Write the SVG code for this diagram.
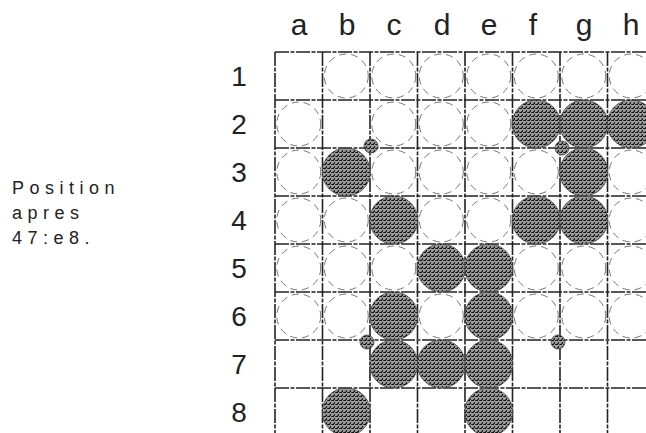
<svg xmlns="http://www.w3.org/2000/svg" width="646" height="433" viewBox="0 0 646 433">
<defs>
<pattern id="stip" width="4" height="4" patternUnits="userSpaceOnUse">
<rect width="4" height="4" fill="#9a9a9a"/>
<rect x="0" y="0" width="2" height="1" fill="#111"/>
<rect x="2" y="2" width="1" height="2" fill="#222"/>
<rect x="3" y="0" width="1" height="1" fill="#333"/>
<rect x="1" y="3" width="1" height="1" fill="#444"/>
</pattern>
</defs>
<style>
.lbl{font-family:"Liberation Sans",Arial,sans-serif;fill:#222;text-anchor:middle}
.col{font-size:30px}
.row{font-size:28px}
.note{font-family:"Liberation Sans",Arial,sans-serif;font-size:18px;letter-spacing:5.5px;fill:#222}
.grid line{stroke:#222;stroke-width:1.6;stroke-dasharray:14 1.5 4 1.5}
.e{fill:none;stroke:#777;stroke-width:1;stroke-dasharray:7 5}
.b{fill:url(#stip);stroke:#444;stroke-width:0.8}
</style>
<rect width="646" height="433" fill="#fff"/>
<g id="caption">
<text class="note" x="12" y="194">Position</text>
<text class="note" x="12" y="219">apres</text>
<text class="note" x="12" y="244">47:e8.</text>
</g>
<g id="col-labels">
<text class="lbl col" x="299" y="35">a</text>
<text class="lbl col" x="347" y="35">b</text>
<text class="lbl col" x="394" y="35">c</text>
<text class="lbl col" x="442" y="35">d</text>
<text class="lbl col" x="489" y="35">e</text>
<text class="lbl col" x="533" y="35">f</text>
<text class="lbl col" x="584" y="35">g</text>
<text class="lbl col" x="631" y="35">h</text>
</g>
<g id="row-labels">
<text class="lbl row" x="239" y="86">1</text>
<text class="lbl row" x="239" y="134">2</text>
<text class="lbl row" x="239" y="182">3</text>
<text class="lbl row" x="239" y="230">4</text>
<text class="lbl row" x="239" y="278">5</text>
<text class="lbl row" x="239" y="326">6</text>
<text class="lbl row" x="239" y="374">7</text>
<text class="lbl row" x="239" y="422">8</text>
</g>
<g id="empty-points">
<circle class="e" cx="346.25" cy="76" r="22"/><circle class="e" cx="393.75" cy="76" r="22"/><circle class="e" cx="441.25" cy="76" r="22"/><circle class="e" cx="488.75" cy="76" r="22"/><circle class="e" cx="536.25" cy="76" r="22"/><circle class="e" cx="583.75" cy="76" r="22"/><circle class="e" cx="631.25" cy="76" r="22"/>
<circle class="e" cx="298.75" cy="124" r="22"/><circle class="e" cx="393.75" cy="124" r="22"/><circle class="e" cx="441.25" cy="124" r="22"/><circle class="e" cx="488.75" cy="124" r="22"/>
<circle class="e" cx="298.75" cy="172" r="22"/><circle class="e" cx="393.75" cy="172" r="22"/><circle class="e" cx="441.25" cy="172" r="22"/><circle class="e" cx="488.75" cy="172" r="22"/><circle class="e" cx="536.25" cy="172" r="22"/><circle class="e" cx="631.25" cy="172" r="22"/>
<circle class="e" cx="298.75" cy="220" r="22"/><circle class="e" cx="346.25" cy="220" r="22"/><circle class="e" cx="441.25" cy="220" r="22"/><circle class="e" cx="488.75" cy="220" r="22"/><circle class="e" cx="631.25" cy="220" r="22"/>
<circle class="e" cx="298.75" cy="268" r="22"/><circle class="e" cx="346.25" cy="268" r="22"/><circle class="e" cx="393.75" cy="268" r="22"/><circle class="e" cx="536.25" cy="268" r="22"/><circle class="e" cx="583.75" cy="268" r="22"/><circle class="e" cx="631.25" cy="268" r="22"/>
<circle class="e" cx="298.75" cy="316" r="22"/><circle class="e" cx="346.25" cy="316" r="22"/><circle class="e" cx="441.25" cy="316" r="22"/><circle class="e" cx="536.25" cy="316" r="22"/><circle class="e" cx="583.75" cy="316" r="22"/><circle class="e" cx="631.25" cy="316" r="22"/>
</g>
<g id="grid" class="grid">
<line x1="275" y1="52" x2="275" y2="433"/><line x1="322.5" y1="52" x2="322.5" y2="433"/><line x1="370" y1="52" x2="370" y2="433"/><line x1="417.5" y1="52" x2="417.5" y2="433"/><line x1="465" y1="52" x2="465" y2="433"/><line x1="512.5" y1="52" x2="512.5" y2="433"/><line x1="560" y1="52" x2="560" y2="433"/><line x1="607.5" y1="52" x2="607.5" y2="433"/>
<line x1="275" y1="52" x2="646" y2="52"/><line x1="275" y1="100" x2="646" y2="100"/><line x1="275" y1="148" x2="646" y2="148"/><line x1="275" y1="196" x2="646" y2="196"/><line x1="275" y1="244" x2="646" y2="244"/><line x1="275" y1="292" x2="646" y2="292"/><line x1="275" y1="340" x2="646" y2="340"/><line x1="275" y1="388" x2="646" y2="388"/>
</g>
<g id="stones">
<circle class="b" cx="536.25" cy="124" r="24"/><circle class="b" cx="583.75" cy="124" r="24"/><circle class="b" cx="631.25" cy="124" r="24"/>
<circle class="b" cx="346.25" cy="172" r="24"/><circle class="b" cx="583.75" cy="172" r="24"/>
<circle class="b" cx="393.75" cy="220" r="24"/><circle class="b" cx="536.25" cy="220" r="24"/><circle class="b" cx="583.75" cy="220" r="24"/>
<circle class="b" cx="441.25" cy="268" r="24"/><circle class="b" cx="488.75" cy="268" r="24"/>
<circle class="b" cx="393.75" cy="316" r="24"/><circle class="b" cx="488.75" cy="316" r="24"/>
<circle class="b" cx="393.75" cy="364" r="24"/><circle class="b" cx="441.25" cy="364" r="24"/><circle class="b" cx="488.75" cy="364" r="24"/>
<circle class="b" cx="346.25" cy="412" r="24"/><circle class="b" cx="488.75" cy="412" r="24"/>
</g>
<g id="markers">
<circle class="b" cx="371" cy="146" r="7"/>
<circle class="b" cx="562" cy="148" r="7"/>
<circle class="b" cx="367" cy="342" r="7"/>
<circle class="b" cx="558" cy="342" r="7"/>
</g>
</svg>
